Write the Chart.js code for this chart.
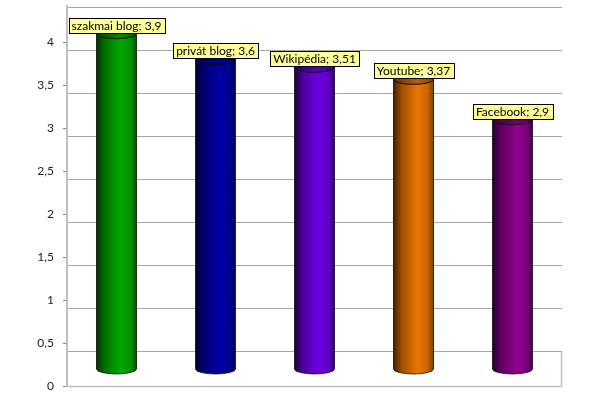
<!DOCTYPE html>
<html>
<head>
<meta charset="utf-8">
<script src="https://cdn.jsdelivr.net/npm/chart.js@4"></script>
<style>
  html, body { margin: 0; padding: 0; background: #fff; }
  #wrap { width: 606px; height: 398px; position: relative; }
</style>
</head>
<body>
<div id="wrap"><canvas id="chart"></canvas></div>
<script>
// adatok
const categories = ["szakmai blog", "privát blog", "Wikipédia", "Youtube", "Facebook"];
const values = [3.9, 3.6, 3.51, 3.37, 2.9];
const barColors = ["#00a000", "#0000a0", "#6a00d8", "#e07000", "#880088"];
const tickStep = 0.5;

const FONT = "Lato, 'Liberation Sans', sans-serif";
const comma = (v) => String(v).replace(".", ",");

const shade = (hex, f) => {
  const n = parseInt(hex.slice(1), 16);
  const r = Math.round(((n >> 16) & 255) * f);
  const g = Math.round(((n >> 8) & 255) * f);
  const b = Math.round((n & 255) * f);
  return `rgb(${Math.min(r, 255)},${Math.min(g, 255)},${Math.min(b, 255)})`;
};

// hátsó fal rácsvonalai + padló
const wallPlugin = {
  id: "wall",
  beforeDatasetsDraw: (chart) => {
    const { ctx, chartArea } = chart;
    const y = chart.scales.y;
    const left = chartArea.left + 1;
    const right = chartArea.right;
    ctx.save();
    ctx.strokeStyle = "#a6a6a6";
    ctx.lineWidth = 1;
    for (let v = tickStep; v <= 4.5; v += tickStep) {
      const py = Math.round(y.getPixelForValue(v) + 8) + 0.5;
      ctx.beginPath();
      ctx.moveTo(left, py);
      ctx.lineTo(right, py);
      ctx.stroke();
    }
    // padló
    const floorTop = Math.round(y.getPixelForValue(tickStep) + 8) + 0.5;
    const floorBottom = Math.round(y.getPixelForValue(0)) + 0.5;
    ctx.strokeStyle = "#bfbfbf";
    ctx.lineWidth = 1.5;
    ctx.beginPath();
    ctx.moveTo(right - 0.5, floorTop);
    ctx.lineTo(right - 0.5, floorBottom);
    ctx.lineTo(chartArea.left, floorBottom);
    ctx.stroke();
    ctx.restore();
  },
};

// hengerek + címkék
const cylinderPlugin = {
  id: "cylinders",
  afterDatasetsDraw: (chart) => {
    const { ctx } = chart;
    const meta = chart.getDatasetMeta(0);
    const ry = 5;

    meta.data.forEach((bar, i) => {
      const col = barColors[i];
      const r = bar.width / 2;
      const x = bar.x;
      const top = bar.y;
      const base = bar.base;

      const grad = ctx.createLinearGradient(x - r, 0, x + r, 0);
      grad.addColorStop(0, shade(col, 0.3));
      grad.addColorStop(0.2, shade(col, 0.7));
      grad.addColorStop(0.6, shade(col, 1.05));
      grad.addColorStop(0.85, shade(col, 0.9));
      grad.addColorStop(1, shade(col, 0.55));

      ctx.save();
      ctx.beginPath();
      ctx.moveTo(x - r, top);
      ctx.lineTo(x - r, base);
      ctx.ellipse(x, base, r, ry, 0, Math.PI, 0, true);
      ctx.lineTo(x + r, top);
      ctx.ellipse(x, top, r, ry, 0, 0, Math.PI, false);
      ctx.closePath();
      ctx.fillStyle = grad;
      ctx.fill();
      ctx.strokeStyle = "rgba(0,0,0,0.75)";
      ctx.lineWidth = 1;
      ctx.stroke();

      // teteje
      const tgrad = ctx.createLinearGradient(x - r, 0, x + r, 0);
      tgrad.addColorStop(0, shade(col, 0.45));
      tgrad.addColorStop(0.6, shade(col, 0.85));
      tgrad.addColorStop(1, shade(col, 0.6));
      ctx.beginPath();
      ctx.ellipse(x, top, r, ry, 0, 0, Math.PI * 2);
      ctx.fillStyle = tgrad;
      ctx.fill();
      ctx.stroke();
      ctx.restore();
    });

    // adatcímkék
    ctx.save();
    ctx.font = `12px ${FONT}`;
    ctx.textAlign = "center";
    ctx.textBaseline = "middle";
    meta.data.forEach((bar, i) => {
      const text = `${categories[i]}; ${comma(values[i])}`;
      const w = Math.ceil(ctx.measureText(text).width) + 6;
      const h = 15;
      const bx = Math.round(bar.x - w / 2) + 0.5;
      const by = Math.round(bar.y - 1 - h) + 0.5;
      ctx.fillStyle = "#ffff99";
      ctx.fillRect(bx, by, w, h);
      ctx.strokeStyle = "#000";
      ctx.lineWidth = 1;
      ctx.strokeRect(bx, by, w, h);
      ctx.fillStyle = "#000";
      ctx.fillText(text, bar.x, by + h / 2 + 0.5);
    });
    ctx.restore();
  },
};

new Chart(document.getElementById("chart"), {
  type: "bar",
  data: {
    labels: categories,
    datasets: [
      {
        data: values,
        yAxisID: "y2",
        backgroundColor: "rgba(0,0,0,0)",
        borderWidth: 0,
        barPercentage: 0.404,
        categoryPercentage: 1,
      },
    ],
  },
  options: {
    responsive: true,
    maintainAspectRatio: false,
    animation: false,
    layout: { padding: { top: 6, right: 44, bottom: 12, left: 0 } },
    scales: {
      x: { display: false },
      y: {
        position: "left",
        min: 0,
        max: 4.42,
        afterFit: (s) => {
          s.width = 67;
          s.paddingTop = 0;
          s.paddingBottom = 0;
        },
        ticks: {
          stepSize: tickStep,
          includeBounds: false,
          padding: 9,
          color: "#222",
          font: { family: FONT, size: 12 },
          callback: (v) => comma(v),
        },
        grid: { drawOnChartArea: false, drawTicks: true, tickLength: 4, color: "#7f7f7f" },
        border: { display: true, color: "#bfbfbf", width: 2 },
      },
      y2: {
        display: false,
        min: -0.198,
        max: 4.222,
      },
    },
    plugins: {
      legend: { display: false },
      tooltip: { enabled: false },
    },
  },
  plugins: [wallPlugin, cylinderPlugin],
});
</script>
</body>
</html>
